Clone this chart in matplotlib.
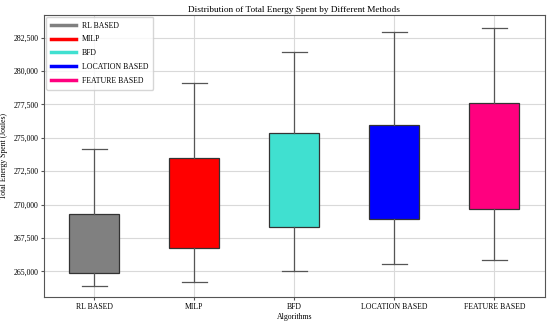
import matplotlib
matplotlib.use('Agg')
import matplotlib.pyplot as plt
from matplotlib.lines import Line2D
from matplotlib.ticker import FuncFormatter

plt.rcParams['font.family'] = ['Liberation Serif', 'DejaVu Serif']

# values
methods = ['RL BASED', 'MILP', 'BFD', 'LOCATION BASED', 'FEATURE BASED']
whislo = [263950, 264230, 265030, 265550, 265855]
q1 = [264900, 266750, 268350, 268900, 269655]
med = [267000, 270000, 271800, 272400, 273600]
q3 = [269300, 273480, 275350, 275950, 277635]
whishi = [274150, 279080, 281450, 282930, 283250]
colors = ['#808080', '#ff0000', '#40e0d0', '#0000ff', '#ff007f']

stats = []
for i in range(len(methods)):
    stats.append(dict(label=methods[i], whislo=whislo[i], q1=q1[i], med=med[i],
                      q3=q3[i], whishi=whishi[i], fliers=[]))

fig, ax = plt.subplots(figsize=(5.5, 3.23), dpi=100)
fig.subplots_adjust(left=0.08, right=0.99, top=0.955, bottom=0.08)

bp = ax.bxp(stats, patch_artist=True, widths=0.5,
            boxprops=dict(edgecolor='#333333', linewidth=0.9),
            whiskerprops=dict(color='#555555', linewidth=0.9),
            capprops=dict(color='#555555', linewidth=0.9),
            medianprops=dict(visible=False))
for patch, c in zip(bp['boxes'], colors):
    patch.set_facecolor(c)

ax.set_ylim(263080, 284220)
ax.set_xlim(0.5, 5.5)
ax.yaxis.set_major_formatter(FuncFormatter(lambda v, p: '{:,.0f}'.format(v)))
ax.grid(True, color='#d9d9d9', linewidth=0.8)
ax.set_axisbelow(True)
for s in ax.spines.values():
    s.set_color('#555555')
ax.tick_params(labelsize=5.6, length=2, pad=2, color='#555555')

ax.set_title('Distribution of Total Energy Spent by Different Methods', fontsize=6.7, pad=2)
ax.set_xlabel('Algorithms', fontsize=5.6, labelpad=2)
ax.set_ylabel('Total Energy Spent (Joules)', fontsize=5.6, labelpad=4)

handles = [Line2D([], [], color=c, lw=2.5) for c in colors]
ax.legend(handles, methods, loc='upper left', fontsize=5.6, framealpha=0.8,
          borderaxespad=0.3, handlelength=3.2, labelspacing=0.75,
          borderpad=0.6)

fig.savefig('out.png', dpi=100)
